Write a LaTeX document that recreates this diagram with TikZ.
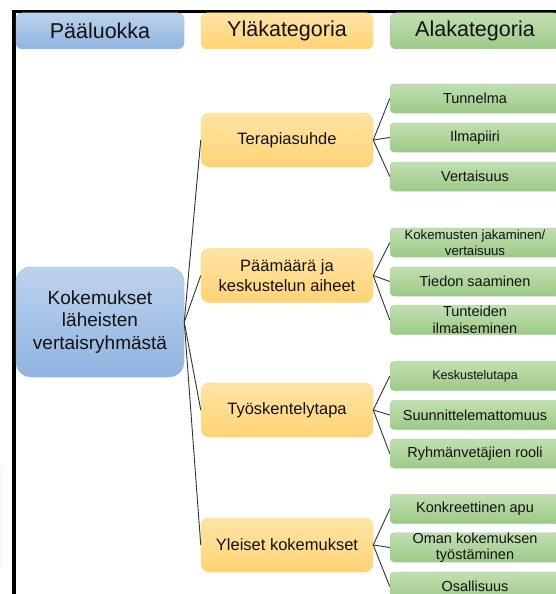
\documentclass[tikz,border=0pt]{standalone}
\usepackage{fontspec}
\setmainfont{Liberation Sans}
\definecolor{blueT}{HTML}{BDD3ED}
\definecolor{blueB}{HTML}{8FB3E0}
\definecolor{blueD}{HTML}{A8C3E6}
\definecolor{yelT}{HTML}{FFE4A6}
\definecolor{yelB}{HTML}{FFD375}
\definecolor{yelD}{HTML}{FFDA8C}
\definecolor{grnT}{HTML}{C1DFB2}
\definecolor{grnB}{HTML}{9DCA87}
\definecolor{grnD}{HTML}{AAD296}
\definecolor{lineC}{HTML}{333333}
\definecolor{txt}{HTML}{121212}
\begin{document}
\begin{tikzpicture}[x=1pt,y=-1pt,
  base/.style={rectangle, inner sep=0pt, align=center, text=txt, line width=0.5pt},
  bluebox/.style={base, top color=blueT, bottom color=blueB, draw=blueD},
  yelbox/.style={base, top color=yelT, bottom color=yelB, draw=yelD},
  grnbox/.style={base, top color=grnT, bottom color=grnB, draw=grnD},
  hdr/.style={minimum height=36pt, rounded corners=6pt, font=\fontsize{21.5}{24}\selectfont},
  ynode/.style={yelbox, minimum width=172pt, minimum height=54pt, rounded corners=8pt, font=\fontsize{16.5}{19.3}\selectfont},
  gnode/.style={grnbox, minimum width=170pt, minimum height=29pt, rounded corners=4pt, font=\fontsize{14.5}{16}\selectfont},
  conn/.style={draw=lineC, line width=0.9pt},
]
\clip (0,0) rectangle (556,594);
\fill[white] (0,0) rectangle (556,594);
% faint edge line
\draw[gray!12, line width=1pt] (1,465) -- (1,568);
% frame
\draw[line width=3.5pt, black] (14,600) -- (14,11.5) -- (600,11.5);
% headers
\node[bluebox, hdr, minimum width=168pt] (h1) at (100,31) {Pääluokka};
\node[yelbox, hdr, minimum width=172pt] (h2) at (287,31) {Yläkategoria};
\node[grnbox, hdr, minimum width=170pt] (h3) at (475,31) {Alakategoria};
% main
\node[bluebox, minimum width=168pt, minimum height=110pt, rounded corners=15pt,
  font=\fontsize{19}{22.7}\selectfont] (m) at (100,322) {Kokemukset\\läheisten\\vertaisryhmästä};
% yellow
\node[ynode] (y1) at (287,140) {Terapiasuhde};
\node[ynode] (y2) at (287,275.5) {Päämäärä ja\\keskustelun aiheet};
\node[ynode] (y3) at (287,410) {Työskentelytapa};
\node[ynode] (y4) at (287,545) {Yleiset kokemukset};
% green
\node[gnode] (g11) at (475,98.5) {Tunnelma};
\node[gnode] (g12) at (475,137.5) {Ilmapiiri};
\node[gnode] (g13) at (475,176.5) {Vertaisuus};
\node[gnode, font=\fontsize{13.2}{16}\selectfont] (g21) at (475,242.5) {Kokemusten jakaminen/\\vertaisuus};
\node[gnode] (g22) at (475,281.5) {Tiedon saaminen};
\node[gnode, font=\fontsize{14.5}{17}\selectfont] (g23) at (475,320) {Tunteiden\\ilmaiseminen};
\node[gnode, font=\fontsize{12.5}{14}\selectfont] (g31) at (475,376) {Keskustelutapa};
\node[gnode] (g32) at (475,415) {Suunnittelemattomuus};
\node[gnode] (g33) at (475,453.5) {Ryhmänvetäjien rooli};
\node[gnode] (g41) at (475,509) {Konkreettinen apu};
\node[gnode, font=\fontsize{14.5}{15.5}\selectfont] (g42) at (475,547.5) {Oman kokemuksen\\työstäminen};
\node[gnode] (g43) at (475,586.5) {Osallisuus};
% connectors
\foreach \y in {y1,y2,y3,y4} \draw[conn] (m.east) -- (\y.west);
\foreach \i in {1,2,3,4} {
  \foreach \j in {1,2,3} \draw[conn] (y\i.east) -- (g\i\j.west);
}
\end{tikzpicture}
\end{document}
